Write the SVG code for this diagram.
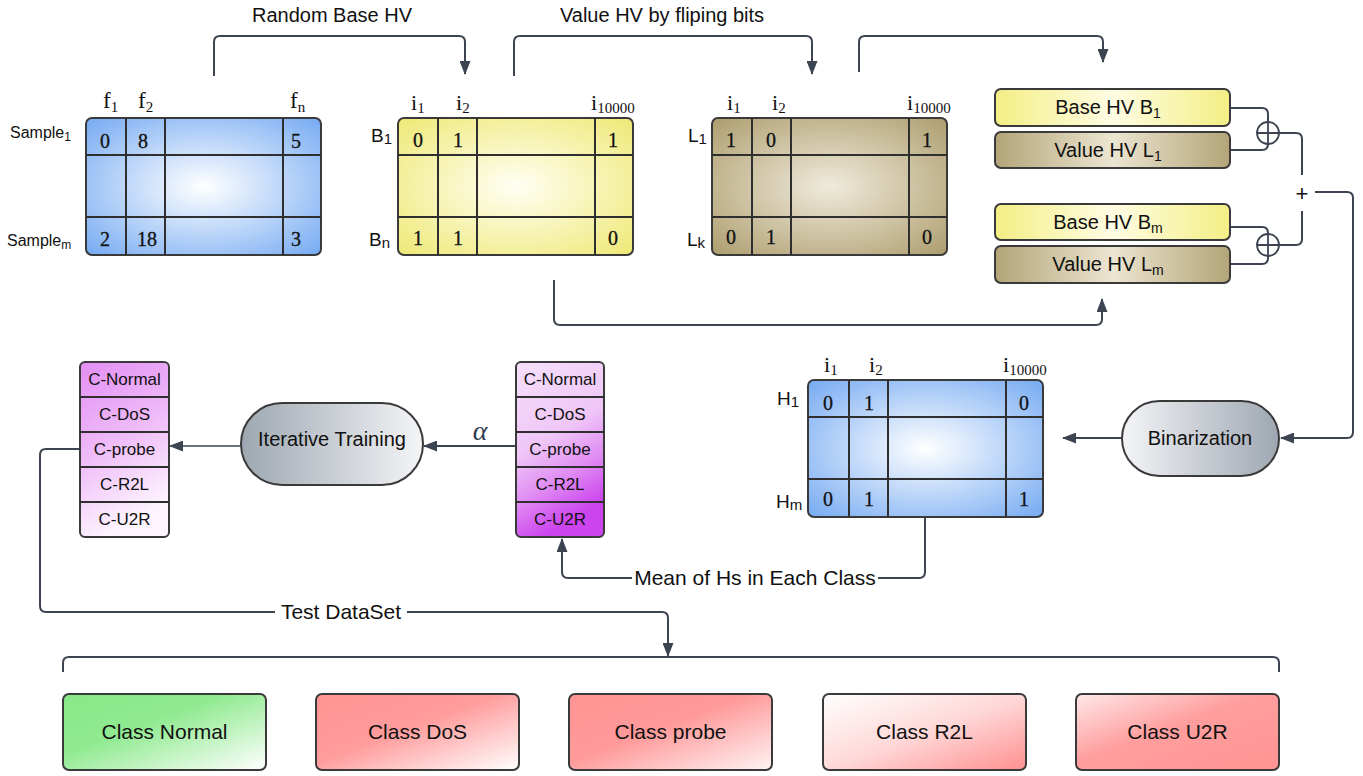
<svg xmlns="http://www.w3.org/2000/svg" width="1363" height="776" viewBox="0 0 1363 776">
<defs>
<radialGradient id="gBlue" cx=".5" cy=".5" r=".72"><stop offset="0" stop-color="#ffffff"/><stop offset="1" stop-color="#72a8f2"/></radialGradient>
<radialGradient id="gYel" cx=".5" cy=".5" r=".72"><stop offset="0" stop-color="#fffff4"/><stop offset="1" stop-color="#eee872"/></radialGradient>
<radialGradient id="gTan" cx=".5" cy=".5" r=".72"><stop offset="0" stop-color="#efeadb"/><stop offset="1" stop-color="#ac9c6c"/></radialGradient>
<linearGradient id="gBase" x1="0" y1="0" x2="1" y2="0"><stop offset="0" stop-color="#f3ee84"/><stop offset=".5" stop-color="#fffde4"/><stop offset="1" stop-color="#f3ee84"/></linearGradient>
<linearGradient id="gVal" x1="0" y1="0" x2="1" y2="0"><stop offset="0" stop-color="#b3a578"/><stop offset=".5" stop-color="#ece5d1"/><stop offset="1" stop-color="#b3a578"/></linearGradient>
<linearGradient id="gIter" x1="0" y1="0" x2="1" y2="0"><stop offset="0" stop-color="#9ea7b1"/><stop offset="1" stop-color="#f4f5f7"/></linearGradient>
<linearGradient id="gBin" x1="0" y1="0" x2="1" y2="0"><stop offset="0" stop-color="#f4f5f7"/><stop offset="1" stop-color="#9ea7b1"/></linearGradient>
<linearGradient id="gListL" x1="0" y1="0" x2=".3" y2="1"><stop offset="0" stop-color="#e38ef4"/><stop offset=".5" stop-color="#eeb9f8"/><stop offset="1" stop-color="#fdf4fe"/></linearGradient>
<linearGradient id="gListR" x1="0" y1="0" x2=".3" y2="1"><stop offset="0" stop-color="#f6e0fa"/><stop offset=".5" stop-color="#efc6f7"/><stop offset=".75" stop-color="#e08cf3"/><stop offset="1" stop-color="#cc44ee"/></linearGradient>
<linearGradient id="gNormal" x1="0" y1="0" x2="1" y2="1"><stop offset="0" stop-color="#88e888"/><stop offset=".4" stop-color="#90ea90"/><stop offset="1" stop-color="#ffffff"/></linearGradient>
<linearGradient id="gDos" x1="0" y1="0" x2="1" y2="1"><stop offset="0" stop-color="#ff9494"/><stop offset=".45" stop-color="#ff9c9c"/><stop offset="1" stop-color="#ffffff"/></linearGradient>
<linearGradient id="gProbe" x1="0" y1="0" x2="1" y2="1"><stop offset="0" stop-color="#ff9494"/><stop offset=".45" stop-color="#ff9a9a"/><stop offset="1" stop-color="#fff4f4"/></linearGradient>
<linearGradient id="gR2l" x1="0" y1="0" x2="1" y2="1"><stop offset="0" stop-color="#ffffff"/><stop offset=".5" stop-color="#ffd8d8"/><stop offset="1" stop-color="#ff9090"/></linearGradient>
<linearGradient id="gU2r" x1="0" y1="0" x2="1" y2="1"><stop offset="0" stop-color="#ffe8e8"/><stop offset=".45" stop-color="#ff9e9e"/><stop offset="1" stop-color="#ff9494"/></linearGradient>
<marker id="arr" viewBox="0 0 14 11" refX="13" refY="5.5" markerWidth="14" markerHeight="11" markerUnits="userSpaceOnUse" orient="auto"><path d="M0,0 L14,5.5 L0,11 z" fill="#3d4451"/></marker>
</defs>
<style>
.ln{fill:none;stroke:#3d4451;stroke-width:2}
.grid{fill:none;stroke:#2f2f2f;stroke-width:2}
.box{stroke:#3a3a3a;stroke-width:2}
.sans{font-family:"Liberation Sans",Arial,sans-serif;fill:#111}
.num{font-family:"Liberation Serif","Times New Roman",serif;font-size:20px;text-anchor:middle;fill:#111;stroke:#111;stroke-width:0.3}
.idx{font-family:"Liberation Serif","Times New Roman",serif;font-size:22px;fill:#111}
.rl{font-family:"Liberation Sans",Arial,sans-serif;font-size:19px;fill:#111}
.lbl{font-family:"Liberation Sans",Arial,sans-serif;font-size:20px;fill:#111;text-anchor:middle}
.cell{font-family:"Liberation Sans",Arial,sans-serif;font-size:17px;fill:#111;text-anchor:middle}
.cls{font-family:"Liberation Sans",Arial,sans-serif;font-size:21px;fill:#111;text-anchor:middle}
</style>
<rect width="1363" height="776" fill="#ffffff"/>

<g id="connectors">
<path class="ln" marker-end="url(#arr)" d="M214,76 V42 Q214,36 220,36 H459 Q465,36 465,42 V74"/>
<path class="ln" marker-end="url(#arr)" d="M514,76 V42 Q514,36 520,36 H806 Q812,36 812,42 V74"/>
<path class="ln" marker-end="url(#arr)" d="M859,72 V42 Q859,36 865,36 H1097 Q1103,36 1103,42 V62"/>
<path class="ln" marker-end="url(#arr)" d="M554,280 V319 Q554,325 560,325 H1096 Q1102,325 1102,319 V299"/>
<path class="ln" d="M1230,108 H1262 Q1268,108 1268,114 V122"/>
<path class="ln" d="M1230,150 H1262 Q1268,150 1268,144"/>
<path class="ln" d="M1279,133 H1296 Q1302,133 1302,139 V175"/>
<path class="ln" d="M1302,211 V239 Q1302,245 1296,245 H1279"/>
<path class="ln" d="M1230,227 H1262 Q1268,227 1268,233 V234"/>
<path class="ln" d="M1230,264 H1262 Q1268,264 1268,258 V256"/>
<path class="ln" marker-end="url(#arr)" d="M1315,192 H1347 Q1353,192 1353,198 V432 Q1353,438 1347,438 H1281"/>
<path class="ln" marker-end="url(#arr)" d="M1122,438 H1063"/>
<path class="ln" marker-end="url(#arr)" d="M925,517 V572 Q925,578 919,578 H568 Q562,578 562,572 V539"/>
<path class="ln" marker-end="url(#arr)" style="stroke-width:2.2" d="M516,446 H424"/>
<path class="ln" marker-end="url(#arr)" style="stroke-width:1.5" d="M241,446 H170"/>
<path class="ln" marker-end="url(#arr)" d="M80,449 H46 Q40,449 40,455 V606 Q40,612 46,612 H662 Q668,612 668,618 V656"/>
<path class="ln" d="M63,672 V663 Q63,657 69,657 H1273 Q1279,657 1279,663 V672"/>
<g>
<circle cx="1268" cy="133" r="11" fill="#ffffff" stroke="#3d4451" stroke-width="1.8"/>
<path class="ln" style="stroke-width:1.8" d="M1257,133 H1279 M1268,122 V144"/>
<circle cx="1268" cy="245" r="11" fill="#ffffff" stroke="#3d4451" stroke-width="1.8"/>
<path class="ln" style="stroke-width:1.8" d="M1257,245 H1279 M1268,234 V256"/>
<text x="1302" y="201" class="lbl" style="font-size:22px">+</text>
</g>
<text x="332" y="22" class="lbl">Random Base HV</text>
<text x="662" y="22" class="lbl">Value HV by fliping bits</text>
<text x="480" y="440" font-family="Liberation Serif, serif" font-style="italic" font-size="28" fill="#2f3b52" text-anchor="middle">α</text>
<rect x="632" y="565" width="246" height="26" fill="#ffffff"/>
<text x="755" y="585" class="lbl" style="font-size:21px">Mean of Hs in Each Class</text>
<rect x="275" y="599" width="132" height="26" fill="#ffffff"/>
<text x="341" y="619" class="lbl" style="font-size:21px">Test DataSet</text>
</g>

<g id="sample-matrix">
<rect x="86" y="118" width="235" height="137" rx="6" fill="url(#gBlue)" class="box"/>
<path class="grid" d="M126,118V255M165,118V255M283,118V255M86,155H321M86,217H321"/>
<text x="103" y="108" class="idx" style="font-size:23px">f<tspan font-size="15" dy="4">1</tspan></text>
<text x="138" y="108" class="idx" style="font-size:23px">f<tspan font-size="15" dy="4">2</tspan></text>
<text x="290" y="108" class="idx" style="font-size:23px">f<tspan font-size="15" dy="4">n</tspan></text>
<text x="10" y="138" class="sans" font-size="16">Sample<tspan font-size="12" dy="3">1</tspan></text>
<text x="7" y="246" class="sans" font-size="16">Sample<tspan font-size="12" dy="3">m</tspan></text>
<text x="105" y="148" class="num">0</text><text x="143" y="148" class="num">8</text><text x="296" y="148" class="num">5</text>
<text x="105" y="246" class="num">2</text><text x="147" y="246" class="num">18</text><text x="296" y="246" class="num">3</text>
</g>

<g id="base-matrix">
<rect x="398" y="118" width="235" height="137" rx="6" fill="url(#gYel)" class="box"/>
<path class="grid" d="M438,118V255M477,118V255M595,118V255M398,155H633M398,217H633"/>
<text x="411" y="110" class="idx">i<tspan font-size="15" dy="3">1</tspan></text>
<text x="456" y="110" class="idx">i<tspan font-size="15" dy="3">2</tspan></text>
<text x="591" y="110" class="idx">i<tspan font-size="15" dy="3">10000</tspan></text>
<text x="371" y="142" class="rl">B<tspan font-size="15" dy="2">1</tspan></text>
<text x="369" y="246" class="rl">B<tspan font-size="15" dy="2">n</tspan></text>
<text x="418" y="147" class="num">0</text><text x="458" y="147" class="num">1</text><text x="613" y="147" class="num">1</text>
<text x="418" y="245" class="num">1</text><text x="458" y="245" class="num">1</text><text x="613" y="245" class="num">0</text>
</g>

<g id="value-matrix">
<rect x="712" y="118" width="235" height="137" rx="6" fill="url(#gTan)" class="box"/>
<path class="grid" d="M752,118V255M791,118V255M909,118V255M712,155H947M712,217H947"/>
<text x="727" y="110" class="idx">i<tspan font-size="15" dy="3">1</tspan></text>
<text x="772" y="110" class="idx">i<tspan font-size="15" dy="3">2</tspan></text>
<text x="907" y="110" class="idx">i<tspan font-size="15" dy="3">10000</tspan></text>
<text x="688" y="142" class="rl">L<tspan font-size="15" dy="2">1</tspan></text>
<text x="687" y="246" class="rl">L<tspan font-size="15" dy="2">k</tspan></text>
<text x="731" y="147" class="num">1</text><text x="771" y="147" class="num">0</text><text x="927" y="147" class="num">1</text>
<text x="731" y="244" class="num">0</text><text x="771" y="244" class="num">1</text><text x="927" y="244" class="num">0</text>
</g>

<g id="base-hv-b1">
<rect x="995" y="89" width="235" height="37" rx="6" fill="url(#gBase)" class="box"/>
<text x="1108" y="114" class="lbl">Base HV B<tspan font-size="14" dy="4">1</tspan></text>
</g>
<g id="value-hv-l1">
<rect x="995" y="132" width="235" height="36" rx="6" fill="url(#gVal)" class="box"/>
<text x="1108" y="157" class="lbl">Value HV L<tspan font-size="14" dy="4">1</tspan></text>
</g>
<g id="base-hv-bm">
<rect x="995" y="204" width="235" height="36" rx="6" fill="url(#gBase)" class="box"/>
<text x="1108" y="229" class="lbl">Base HV B<tspan font-size="14" dy="4">m</tspan></text>
</g>
<g id="value-hv-lm">
<rect x="995" y="246" width="235" height="37" rx="6" fill="url(#gVal)" class="box"/>
<text x="1108" y="271" class="lbl">Value HV L<tspan font-size="14" dy="4">m</tspan></text>
</g>

<g id="binarization">
<rect x="1122" y="401" width="157" height="75" rx="37.5" fill="url(#gBin)" class="box"/>
<text x="1200" y="445" class="lbl">Binarization</text>
</g>

<g id="h-matrix">
<rect x="808" y="380" width="235" height="137" rx="6" fill="url(#gBlue)" class="box"/>
<path class="grid" d="M849,380V517M888,380V517M1006,380V517M808,417H1043M808,479H1043"/>
<text x="824" y="372" class="idx">i<tspan font-size="15" dy="3">1</tspan></text>
<text x="869" y="372" class="idx">i<tspan font-size="15" dy="3">2</tspan></text>
<text x="1003" y="372" class="idx">i<tspan font-size="15" dy="3">10000</tspan></text>
<text x="777" y="405" class="rl">H<tspan font-size="15" dy="2">1</tspan></text>
<text x="776" y="508" class="rl">H<tspan font-size="15" dy="2">m</tspan></text>
<text x="828" y="410" class="num">0</text><text x="869" y="410" class="num">1</text><text x="1024" y="410" class="num">0</text>
<text x="828" y="506" class="num">0</text><text x="869" y="506" class="num">1</text><text x="1024" y="506" class="num">1</text>
</g>

<g id="class-means">
<rect x="516" y="362" width="88" height="175" rx="5" fill="url(#gListR)" class="box"/>
<path class="grid" d="M516,397H604M516,432H604M516,467H604M516,502H604"/>
<text x="560" y="385" class="cell">C-Normal</text>
<text x="560" y="420" class="cell">C-DoS</text>
<text x="560" y="455" class="cell">C-probe</text>
<text x="560" y="490" class="cell">C-R2L</text>
<text x="560" y="525" class="cell">C-U2R</text>
</g>

<g id="iterative-training">
<rect x="241" y="403" width="182" height="82" rx="41" fill="url(#gIter)" class="box"/>
<text x="332" y="446" class="lbl">Iterative Training</text>
</g>

<g id="trained-classes">
<rect x="80" y="362" width="89" height="175" rx="5" fill="url(#gListL)" class="box"/>
<path class="grid" d="M80,397H169M80,432H169M80,467H169M80,502H169"/>
<text x="124.5" y="385" class="cell">C-Normal</text>
<text x="124.5" y="420" class="cell">C-DoS</text>
<text x="124.5" y="455" class="cell">C-probe</text>
<text x="124.5" y="490" class="cell">C-R2L</text>
<text x="124.5" y="525" class="cell">C-U2R</text>
</g>

<g id="class-normal">
<rect x="63" y="694" width="203" height="76" rx="6" fill="url(#gNormal)" class="box"/>
<text x="164.5" y="739" class="cls">Class Normal</text>
</g>
<g id="class-dos">
<rect x="316" y="694" width="203" height="76" rx="6" fill="url(#gDos)" class="box"/>
<text x="417.5" y="739" class="cls">Class DoS</text>
</g>
<g id="class-probe">
<rect x="569" y="694" width="203" height="76" rx="6" fill="url(#gProbe)" class="box"/>
<text x="670.5" y="739" class="cls">Class probe</text>
</g>
<g id="class-r2l">
<rect x="823" y="694" width="203" height="76" rx="6" fill="url(#gR2l)" class="box"/>
<text x="924.5" y="739" class="cls">Class R2L</text>
</g>
<g id="class-u2r">
<rect x="1076" y="694" width="203" height="76" rx="6" fill="url(#gU2r)" class="box"/>
<text x="1177.5" y="739" class="cls">Class U2R</text>
</g>
</svg>
